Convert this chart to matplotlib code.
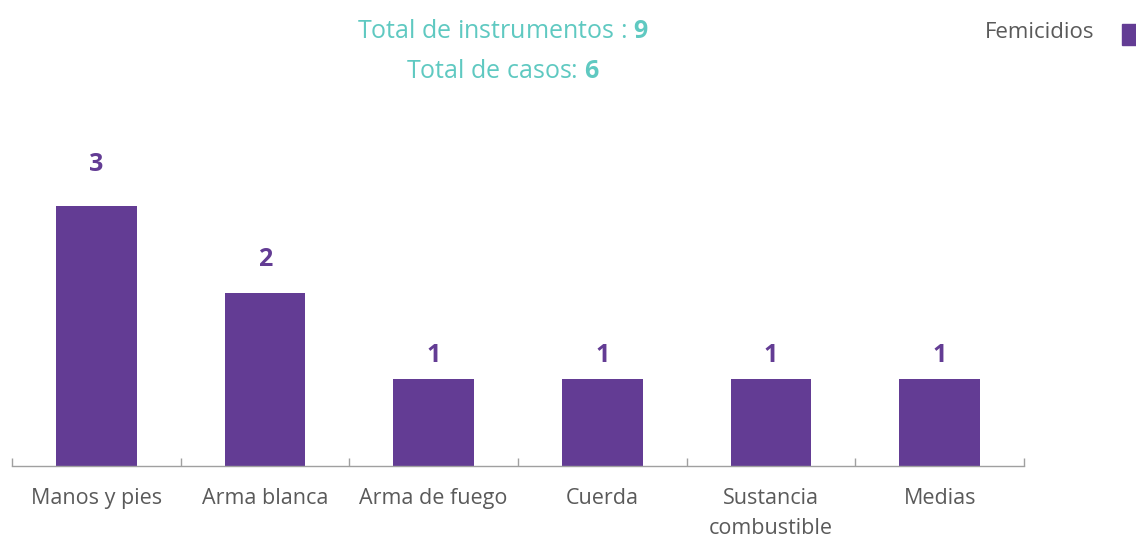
import numpy as np
import matplotlib.pyplot as plt
from matplotlib.patches import Rectangle

categorias = ["Manos y pies", "Arma blanca", "Arma de fuego", "Cuerda",
              "Sustancia\ncombustible", "Medias"]
femicidios = [3, 2, 1, 1, 1, 1]
total_instrumentos = 9
total_casos = 6

PURPLE = "#633c94"
TEAL = "#5fc9c1"
GREY = "#5a5a5a"
AXIS = "#a0a0a0"

plt.rcParams['font.family'] = ['Open Sans', 'DejaVu Sans']
plt.rcParams['mathtext.fontset'] = 'custom'
plt.rcParams['mathtext.rm'] = 'Open Sans'
plt.rcParams['mathtext.bf'] = 'Open Sans:bold'

fig = plt.figure(figsize=(11.36, 5.39), dpi=100)
ax = fig.add_axes([12 / 1136, 73 / 539, 1012 / 1136, 390 / 539])

x = np.arange(len(categorias))
ax.bar(x, femicidios, width=0.48, color=PURPLE, zorder=2)

for xi, v in zip(x, femicidios):
    ax.text(xi, v * 1.1 + 0.18, str(v), ha='center', va='center',
            color=PURPLE, fontsize=18, fontweight='bold')

ax.set_xlim(-0.5, len(categorias) - 0.5)
ax.set_ylim(0, 4.5)
ax.set_yticks([])
ax.set_xticks(x)
ax.set_xticklabels(categorias, fontsize=15.5, color=GREY, linespacing=1.55)
ax.tick_params(axis='x', which='major', length=0, pad=16)
ax.set_xticks(np.arange(len(categorias) + 1) - 0.5, minor=True)
ax.tick_params(axis='x', which='minor', direction='in', length=6,
               color=AXIS, width=1)
for s in ['top', 'right', 'left']:
    ax.spines[s].set_visible(False)
ax.spines['bottom'].set_color(AXIS)
ax.spines['bottom'].set_linewidth(1)

fig.text(503 / 1136, 1 - 31 / 539,
         r"Total de instrumentos : $\bf{" + str(total_instrumentos) + "}$",
         ha='center', va='center', color=TEAL, fontsize=18)
fig.text(503 / 1136, 1 - 71 / 539,
         r"Total de casos: $\bf{" + str(total_casos) + "}$",
         ha='center', va='center', color=TEAL, fontsize=18)

fig.text(1094 / 1136, 1 - 33 / 539, "Femicidios", ha='right', va='center',
         color=GREY, fontsize=16)
fig.patches.append(Rectangle((1122 / 1136, 1 - 45 / 539), 16 / 1136, 21 / 539,
                             transform=fig.transFigure, color=PURPLE))

fig.savefig("out.png", dpi=100)
